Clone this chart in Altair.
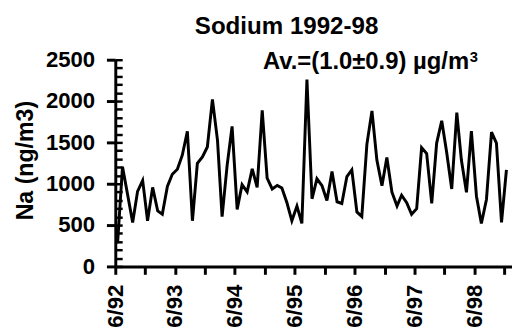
import altair as alt
import pandas as pd

# Monthly sodium concentrations (ng/m3), 6/92 .. 12/98 (mid-month samples)
na_values = [280, 1206, 870, 532, 908, 1040, 552, 956, 671, 631,
             968, 1115, 1175, 1345, 1635, 552, 1246, 1325, 1444, 2020,
             1524, 603, 1226, 1694, 690, 988, 901, 1179, 956, 1889,
             1067, 937, 980, 948, 770, 552, 730, 520, 2260, 818,
             1060, 976, 798, 1147, 782, 762, 1087, 1167, 659, 603,
             1476, 1881, 1286, 976, 1317, 897, 730, 861, 770, 631,
             698, 1437, 1365, 762, 1492, 1762, 1380, 937, 1861, 1286,
             897, 1635, 849, 520, 810, 1623, 1492, 532, 1167]
dates = (pd.date_range("1992-06-01", periods=len(na_values), freq="MS")
         + pd.Timedelta(days=14)).strftime("%Y-%m-%d").tolist()

y_major = [0, 500, 1000, 1500, 2000, 2500]
y_minor = list(range(0, 2600, 100))
x_tick_dates = [alt.DateTime(year=1992 + (m // 12), month=(m % 12) + 1, date=1, utc=True)
                for m in range(5, 5 + 79, 6)]

title_text = "Sodium 1992-98"
note_text = "Av.=(1.0\u00b10.9) \u00b5g/m"
note_sup = "3"
y_title = "Na (ng/m3)"

df = pd.DataFrame({"date": dates, "na": na_values})

FONT = "Liberation Sans"

x_scale = alt.Scale(type="utc",
                    domain=[alt.DateTime(year=1992, month=6, date=1, utc=True),
                            alt.DateTime(year=1999, month=1, date=18, utc=True)])
y_scale = alt.Scale(domain=[0, 2500], nice=False, zero=True)

x_enc = alt.X("date:T", scale=x_scale,
              axis=alt.Axis(values=x_tick_dates, title=None, grid=False,
                            tickSize=8, tickWidth=3, domainWidth=3,
                            labelAngle=270, labelAlign="right", labelBaseline="middle",
                            labelPadding=10, labelOverlap=False, labelFlush=False,
                            labelExpr="utcmonth(datum.value) == 5 ? utcFormat(datum.value, '%-m/%y') : ''"))

line = alt.Chart(df).mark_line(color="black", strokeWidth=3, clip=True).encode(
    x=x_enc,
    y=alt.Y("na:Q", scale=y_scale,
            axis=alt.Axis(orient="left", values=y_major, format="d", title=y_title, grid=False,
                          tickSize=9, tickWidth=3, domainWidth=3,
                          labelPadding=12, labelOverlap=False, labelFlush=False,
                          titleFontSize=23.5, titleFont=FONT, titleFontWeight="bold",
                          titleX=-91, titleY=102, titleAngle=270,
                          titleAlign="center", titleBaseline="middle")),
)

minor = alt.Chart(df).mark_line(opacity=0).encode(
    x=x_enc,
    y=alt.Y("na:Q", scale=y_scale,
            axis=alt.Axis(orient="left", values=y_minor, title=None, labels=False,
                          domain=False, grid=False, tickSize=7, tickWidth=2.5,
                          offset=-7)),
)

one = pd.DataFrame({"k": [0]})
title_mark = alt.Chart(one).mark_text(
    text=title_text, font=FONT, fontWeight="bold", fontSize=24.5,
    align="center", baseline="alphabetic", color="black"
).encode(x=alt.value(174), y=alt.value(-26))

note_mark = alt.Chart(one).mark_text(
    text=note_text, font=FONT, fontWeight="bold", fontSize=24.2,
    align="left", baseline="alphabetic", color="black"
).encode(x=alt.value(150), y=alt.value(9))

sup_mark = alt.Chart(one).mark_text(
    text=note_sup, font=FONT, fontWeight="bold", fontSize=15,
    align="left", baseline="alphabetic", color="black"
).encode(x=alt.value(360), y=alt.value(2))

chart = alt.layer(line, minor, title_mark, note_mark, sup_mark).resolve_axis(
    y="independent"
).properties(
    width=403, height=210,
    autosize=alt.AutoSizeParams(type="none"),
    padding={"left": 109, "top": 50, "right": 0, "bottom": 59},
    background="white",
).configure_view(stroke=None).configure_axis(
    labelFont=FONT, labelFontWeight="bold", labelFontSize=22.5, labelColor="black",
    domainColor="black", tickColor="black", titleColor="black",
)

chart.save("out.html", embed_options={"renderer": "svg", "actions": False})
